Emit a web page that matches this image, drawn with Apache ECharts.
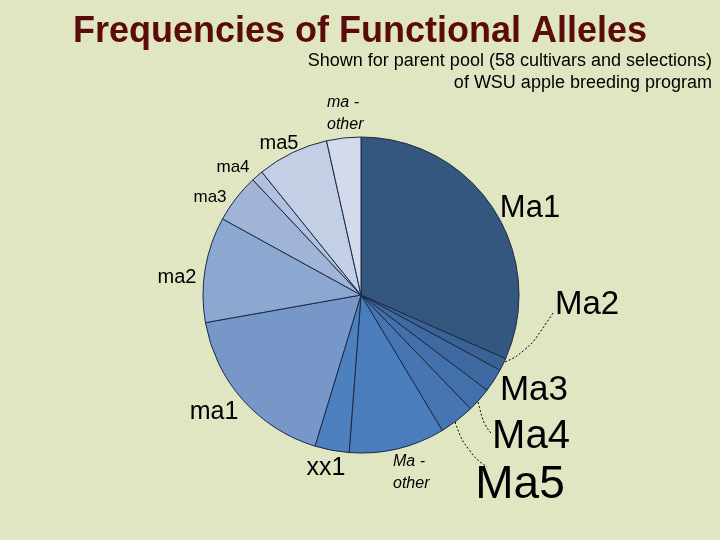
<!DOCTYPE html>
<html>
<head>
<meta charset="utf-8">
<script src="https://cdn.jsdelivr.net/npm/echarts@6/dist/echarts.min.js"></script>
<style>
html,body{margin:0;padding:0;background:#e1e6c2;}
#chart{width:720px;height:540px;}
</style>
</head>
<body>
<div id="chart"></div>
<script>
// Data (percent of alleles)
var categories = ['Ma1','Ma2','Ma3','Ma4','Ma5','Ma - other','xx1','ma1','ma2','ma3','ma4','ma5','ma - other'];
var values = [31.6, 1.3, 2.4, 2.5, 3.6, 9.8, 3.5, 17.5, 10.8, 5.0, 1.2, 7.3, 3.5];
var labelTexts = ['Ma1','Ma2','Ma3','Ma4','Ma5','Ma -\nother','xx1','ma1','ma2','ma3','ma4','ma5','ma -\nother'];
var titleText = 'Frequencies of Functional Alleles';
var subtitleLines = ['Shown for parent pool (58 cultivars and selections)', 'of WSU apple breeding program'];

// Styling (not data)
var colors = ['#33577f','#3a6294','#3e69a1','#4270aa','#4575b2','#4a7dbc','#4d80bf','#7697c8','#8ca8d1','#a0b4d8','#b1c1de','#c3cfe5','#d3daeb'];
var fontSizes = [31, 33, 35, 40, 46, 16, 25, 25, 20, 17, 17, 20, 16];
var italic = [false,false,false,false,false,true,false,false,false,false,false,false,true];
var labelPos = [
  {x:530,y:208,align:'center'},
  {x:587,y:305,align:'center'},
  {x:534,y:390,align:'center'},
  {x:531,y:437,align:'center'},
  {x:520,y:485,align:'center'},
  {x:393,y:473,align:'left'},
  {x:326,y:468,align:'center'},
  {x:214,y:412,align:'center'},
  {x:177,y:277,align:'center'},
  {x:210,y:197,align:'center'},
  {x:233,y:167,align:'center'},
  {x:279,y:143,align:'center'},
  {x:327,y:114,align:'left'}
];
var leaders = {
  1: [[505,362],[527,352],[553,313]],
  3: [[478,402],[484,425],[491,433]],
  4: [[455,422],[466,452],[487,467]]
};

var data = categories.map(function(c, i){
  return {
    name: c,
    value: values[i],
    itemStyle: {color: colors[i]},
    label: {
      formatter: labelTexts[i],
      fontSize: fontSizes[i],
      fontStyle: italic[i] ? 'italic' : 'normal',
      lineHeight: italic[i] ? 22 : fontSizes[i] * 1.1,
      align: labelPos[i].align
    },
    labelLine: {show: !!leaders[i]}
  };
});

var chart = echarts.init(document.getElementById('chart'), null, {renderer:'canvas'});
chart.setOption({
  backgroundColor: '#e1e6c2',
  animation: false,
  title: {
    text: titleText,
    left: 'center',
    top: 9,
    textStyle: {fontFamily: 'Liberation Sans, Arial', fontSize: 36, fontWeight: 'bold', color: '#5a0b0b'}
  },
  graphic: subtitleLines.map(function(t, k){
    return {
      type: 'text',
      right: 8,
      top: 52 + k * 22,
      style: {text: t, font: '18px "Liberation Sans", Arial', fill: '#000', align: 'right'}
    };
  }),
  series: [{
    type: 'pie',
    center: [361, 295],
    radius: [0, 158],
    startAngle: 90,
    clockwise: true,
    avoidLabelOverlap: false,
    itemStyle: {borderColor: '#1b2a48', borderWidth: 1},
    label: {
      show: true,
      position: 'outside',
      color: '#000',
      fontFamily: 'Liberation Sans, Arial'
    },
    labelLine: {
      show: false,
      smooth: 0.5,
      lineStyle: {color: '#000', width: 1, type: [2, 2]}
    },
    labelLayout: function(params){
      var i = params.dataIndex;
      var p = labelPos[i];
      var out = {x: p.x, y: p.y, align: p.align, verticalAlign: 'middle'};
      if (leaders[i]) out.labelLinePoints = leaders[i];
      return out;
    },
    data: data
  }]
});
</script>
</body>
</html>
